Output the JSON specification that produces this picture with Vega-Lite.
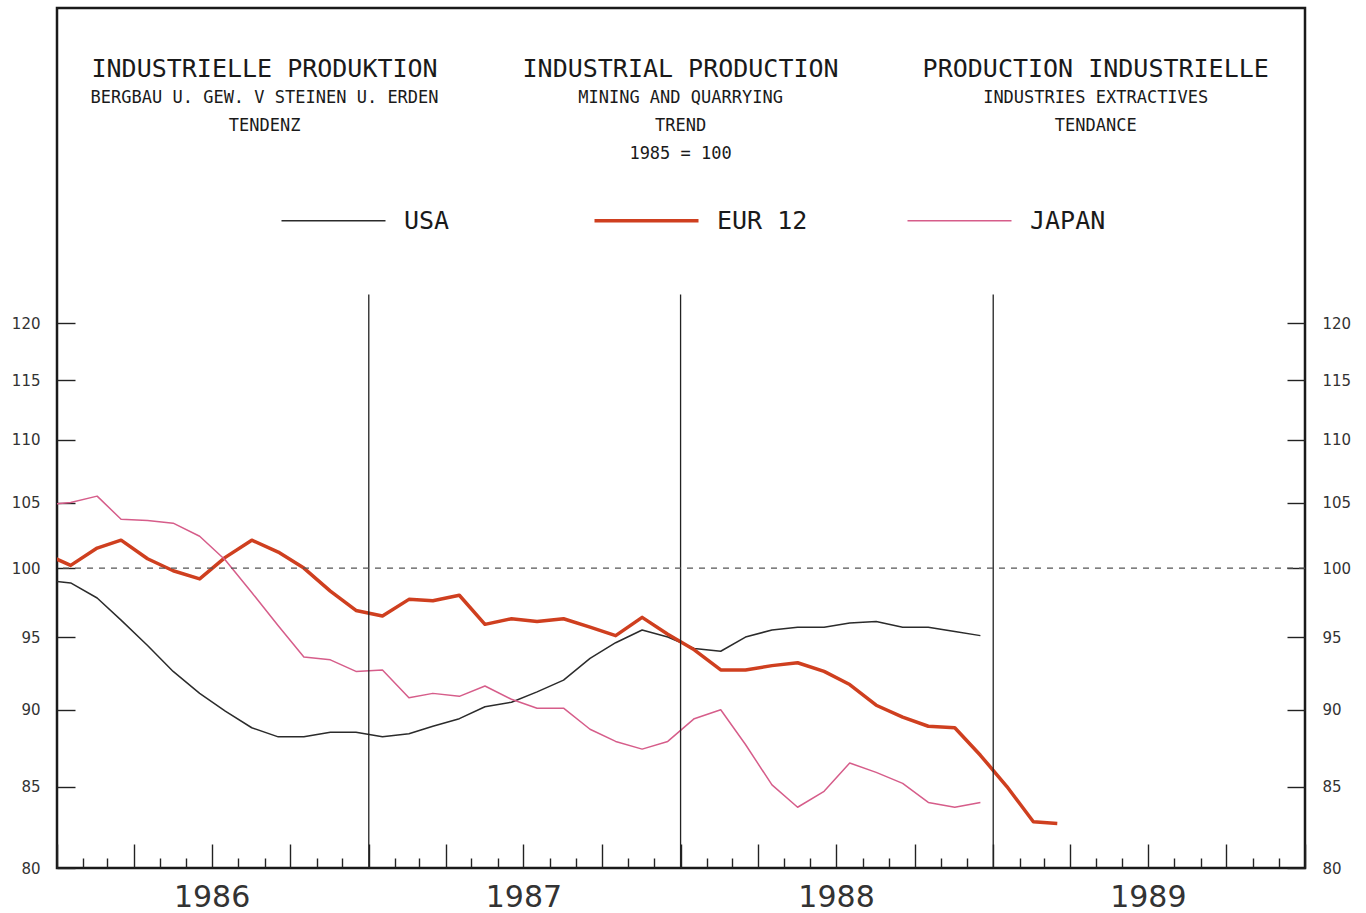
{
 "$schema": "https://vega.github.io/schema/vega-lite/v6.json",
 "width": 1248, "height": 860,
 "autosize": {"type": "none"},
 "padding": {"left": 57, "top": 8, "right": 61, "bottom": 45},
 "background": "white",
 "config": {
  "view": {"stroke": "#1a1a1a", "strokeWidth": 2.5},
  "axis": {"grid": false, "domain": false, "title": null, "labelFont": "DejaVu Sans", "labelColor": "#333", "tickColor": "#222", "tickWidth": 1.4}
 },
 "data": {"values": [
  {"date": "1985-12-17", "series": "USA", "value": 99.1},
  {"date": "1986-01-17", "series": "USA", "value": 98.9},
  {"date": "1986-02-17", "series": "USA", "value": 97.8},
  {"date": "1986-03-17", "series": "USA", "value": 96.2},
  {"date": "1986-04-17", "series": "USA", "value": 94.4},
  {"date": "1986-05-17", "series": "USA", "value": 92.6},
  {"date": "1986-06-17", "series": "USA", "value": 91.1},
  {"date": "1986-07-17", "series": "USA", "value": 89.9},
  {"date": "1986-08-17", "series": "USA", "value": 88.8},
  {"date": "1986-09-17", "series": "USA", "value": 88.2},
  {"date": "1986-10-17", "series": "USA", "value": 88.2},
  {"date": "1986-11-17", "series": "USA", "value": 88.5},
  {"date": "1986-12-17", "series": "USA", "value": 88.5},
  {"date": "1987-01-17", "series": "USA", "value": 88.2},
  {"date": "1987-02-17", "series": "USA", "value": 88.4},
  {"date": "1987-03-17", "series": "USA", "value": 88.9},
  {"date": "1987-04-17", "series": "USA", "value": 89.4},
  {"date": "1987-05-17", "series": "USA", "value": 90.2},
  {"date": "1987-06-17", "series": "USA", "value": 90.5},
  {"date": "1987-07-17", "series": "USA", "value": 91.2},
  {"date": "1987-08-17", "series": "USA", "value": 92.0},
  {"date": "1987-09-17", "series": "USA", "value": 93.5},
  {"date": "1987-10-17", "series": "USA", "value": 94.6},
  {"date": "1987-11-17", "series": "USA", "value": 95.5},
  {"date": "1987-12-17", "series": "USA", "value": 95.0},
  {"date": "1988-01-17", "series": "USA", "value": 94.2},
  {"date": "1988-02-17", "series": "USA", "value": 94.0},
  {"date": "1988-03-17", "series": "USA", "value": 95.0},
  {"date": "1988-04-17", "series": "USA", "value": 95.5},
  {"date": "1988-05-17", "series": "USA", "value": 95.7},
  {"date": "1988-06-17", "series": "USA", "value": 95.7},
  {"date": "1988-07-17", "series": "USA", "value": 96.0},
  {"date": "1988-08-17", "series": "USA", "value": 96.1},
  {"date": "1988-09-17", "series": "USA", "value": 95.7},
  {"date": "1988-10-17", "series": "USA", "value": 95.7},
  {"date": "1988-11-17", "series": "USA", "value": 95.4},
  {"date": "1988-12-17", "series": "USA", "value": 95.1},
  {"date": "1985-12-17", "series": "EUR 12", "value": 101.1},
  {"date": "1986-01-17", "series": "EUR 12", "value": 100.2},
  {"date": "1986-02-17", "series": "EUR 12", "value": 101.5},
  {"date": "1986-03-17", "series": "EUR 12", "value": 102.1},
  {"date": "1986-04-17", "series": "EUR 12", "value": 100.7},
  {"date": "1986-05-17", "series": "EUR 12", "value": 99.8},
  {"date": "1986-06-17", "series": "EUR 12", "value": 99.2},
  {"date": "1986-07-17", "series": "EUR 12", "value": 100.8},
  {"date": "1986-08-17", "series": "EUR 12", "value": 102.1},
  {"date": "1986-09-17", "series": "EUR 12", "value": 101.2},
  {"date": "1986-10-17", "series": "EUR 12", "value": 100.0},
  {"date": "1986-11-17", "series": "EUR 12", "value": 98.3},
  {"date": "1986-12-17", "series": "EUR 12", "value": 96.9},
  {"date": "1987-01-17", "series": "EUR 12", "value": 96.5},
  {"date": "1987-02-17", "series": "EUR 12", "value": 97.7},
  {"date": "1987-03-17", "series": "EUR 12", "value": 97.6},
  {"date": "1987-04-17", "series": "EUR 12", "value": 98.0},
  {"date": "1987-05-17", "series": "EUR 12", "value": 95.9},
  {"date": "1987-06-17", "series": "EUR 12", "value": 96.3},
  {"date": "1987-07-17", "series": "EUR 12", "value": 96.1},
  {"date": "1987-08-17", "series": "EUR 12", "value": 96.3},
  {"date": "1987-09-17", "series": "EUR 12", "value": 95.7},
  {"date": "1987-10-17", "series": "EUR 12", "value": 95.1},
  {"date": "1987-11-17", "series": "EUR 12", "value": 96.4},
  {"date": "1987-12-17", "series": "EUR 12", "value": 95.2},
  {"date": "1988-01-17", "series": "EUR 12", "value": 94.1},
  {"date": "1988-02-17", "series": "EUR 12", "value": 92.7},
  {"date": "1988-03-17", "series": "EUR 12", "value": 92.7},
  {"date": "1988-04-17", "series": "EUR 12", "value": 93.0},
  {"date": "1988-05-17", "series": "EUR 12", "value": 93.2},
  {"date": "1988-06-17", "series": "EUR 12", "value": 92.6},
  {"date": "1988-07-17", "series": "EUR 12", "value": 91.7},
  {"date": "1988-08-17", "series": "EUR 12", "value": 90.3},
  {"date": "1988-09-17", "series": "EUR 12", "value": 89.5},
  {"date": "1988-10-17", "series": "EUR 12", "value": 88.9},
  {"date": "1988-11-17", "series": "EUR 12", "value": 88.8},
  {"date": "1988-12-17", "series": "EUR 12", "value": 87.0},
  {"date": "1989-01-17", "series": "EUR 12", "value": 85.0},
  {"date": "1989-02-17", "series": "EUR 12", "value": 82.8},
  {"date": "1989-03-17", "series": "EUR 12", "value": 82.7},
  {"date": "1985-12-17", "series": "JAPAN", "value": 104.8},
  {"date": "1986-01-17", "series": "JAPAN", "value": 105.0},
  {"date": "1986-02-17", "series": "JAPAN", "value": 105.5},
  {"date": "1986-03-17", "series": "JAPAN", "value": 103.7},
  {"date": "1986-04-17", "series": "JAPAN", "value": 103.6},
  {"date": "1986-05-17", "series": "JAPAN", "value": 103.4},
  {"date": "1986-06-17", "series": "JAPAN", "value": 102.4},
  {"date": "1986-07-17", "series": "JAPAN", "value": 100.6},
  {"date": "1986-08-17", "series": "JAPAN", "value": 98.2},
  {"date": "1986-09-17", "series": "JAPAN", "value": 95.8},
  {"date": "1986-10-17", "series": "JAPAN", "value": 93.6},
  {"date": "1986-11-17", "series": "JAPAN", "value": 93.4},
  {"date": "1986-12-17", "series": "JAPAN", "value": 92.6},
  {"date": "1987-01-17", "series": "JAPAN", "value": 92.7},
  {"date": "1987-02-17", "series": "JAPAN", "value": 90.8},
  {"date": "1987-03-17", "series": "JAPAN", "value": 91.1},
  {"date": "1987-04-17", "series": "JAPAN", "value": 90.9},
  {"date": "1987-05-17", "series": "JAPAN", "value": 91.6},
  {"date": "1987-06-17", "series": "JAPAN", "value": 90.7},
  {"date": "1987-07-17", "series": "JAPAN", "value": 90.1},
  {"date": "1987-08-17", "series": "JAPAN", "value": 90.1},
  {"date": "1987-09-17", "series": "JAPAN", "value": 88.7},
  {"date": "1987-10-17", "series": "JAPAN", "value": 87.9},
  {"date": "1987-11-17", "series": "JAPAN", "value": 87.4},
  {"date": "1987-12-17", "series": "JAPAN", "value": 87.9},
  {"date": "1988-01-17", "series": "JAPAN", "value": 89.4},
  {"date": "1988-02-17", "series": "JAPAN", "value": 90.0},
  {"date": "1988-03-17", "series": "JAPAN", "value": 87.7},
  {"date": "1988-04-17", "series": "JAPAN", "value": 85.1},
  {"date": "1988-05-17", "series": "JAPAN", "value": 83.7},
  {"date": "1988-06-17", "series": "JAPAN", "value": 84.7},
  {"date": "1988-07-17", "series": "JAPAN", "value": 86.5},
  {"date": "1988-08-17", "series": "JAPAN", "value": 85.9},
  {"date": "1988-09-17", "series": "JAPAN", "value": 85.2},
  {"date": "1988-10-17", "series": "JAPAN", "value": 84.0},
  {"date": "1988-11-17", "series": "JAPAN", "value": 83.7},
  {"date": "1988-12-17", "series": "JAPAN", "value": 84.0}
 ]},
 "resolve": {"axis": {"x": "independent", "y": "independent"}},
 "layer": [
  {
   "mark": {"type": "line", "clip": true, "strokeJoin": "round"},
   "encoding": {
    "x": {"field": "date", "type": "temporal",
     "scale": {"type": "utc", "domain": [{"year": 1986, "month": 1, "date": 1, "utc": true}, {"year": 1990, "month": 1, "date": 1, "utc": true}], "nice": false},
     "axis": {"orient": "bottom", "tickCount": {"interval": "month", "step": 1}, "labelExpr": "utcmonth(datum.value) == 6 ? utcFormat(datum.value, '%Y') : ''", "tickSize": {"condition": {"test": "utcmonth(datum.value) % 3 == 0", "value": -24}, "value": -10}, "labelFontSize": 30, "labelBaseline": "alphabetic", "labelPadding": 62, "labelOverlap": false, "labelFlush": false, "labelColor": "#333"}},
    "y": {"field": "value", "type": "quantitative",
     "scale": {"type": "log", "domain": [80, 151.7], "nice": false, "zero": false},
     "axis": {"orient": "left", "values": [80, 85, 90, 95, 100, 105, 110, 115, 120], "format": "d", "tickSize": -18, "labelPadding": 35, "labelAlign": "right", "labelBaseline": "middle", "labelFontSize": 15}},
    "color": {"field": "series", "type": "nominal",
     "scale": {"domain": ["USA", "EUR 12", "JAPAN"], "range": ["#2b2b2b", "#cf3f1f", "#d65d8a"]},
     "legend": {"orient": "none", "legendX": 264, "legendY": 200, "direction": "horizontal", "title": null, "symbolType": "stroke", "symbolSize": 10816, "symbolStrokeWidth": 1.5, "labelFont": "DejaVu Sans Mono", "labelFontSize": 25, "labelColor": "#1a1a1a", "labelOffset": 58, "columnPadding": 92, "gridAlign": "all", "padding": 0,
      "encode": {"symbols": {"update": {"strokeWidth": {"signal": "datum.value === 'EUR 12' ? 3.5 : 1.5"}}}}}},
    "strokeWidth": {"condition": {"test": "datum.series === 'EUR 12'", "value": 3.5}, "value": 1.5}
   }
  },
  {
   "data": {"values": [{"year_start": "1987-01-01"}, {"year_start": "1988-01-01"}, {"year_start": "1989-01-01"}]},
   "mark": {"type": "rule", "color": "#222", "strokeWidth": 1.3},
   "encoding": {
    "x": {"field": "year_start", "type": "temporal", "axis": null},
    "y": {"datum": 80, "axis": null},
    "y2": {"datum": 122.57}
   }
  },
  {
   "data": {"values": [{}]},
   "mark": {"type": "rule", "color": "#555", "strokeDash": [6, 6], "strokeWidth": 1.2},
   "encoding": {
    "y": {"datum": 100, "axis": {"orient": "right", "values": [80, 85, 90, 95, 100, 105, 110, 115, 120], "format": "d", "tickSize": -18, "labelPadding": 35, "labelAlign": "left", "labelBaseline": "middle", "labelFontSize": 15}}
   }
  },
  {
   "data": {"values": [{"t": "INDUSTRIELLE PRODUKTION"}]},
   "mark": {"type": "text", "font": "DejaVu Sans Mono", "fontSize": 25, "align": "center", "baseline": "alphabetic", "color": "#1a1a1a"},
   "encoding": {"text": {"field": "t"}, "x": {"datum": {"year": 1986, "month": 9, "date": 1, "utc": true}, "type": "temporal", "axis": null}, "y": {"datum": 144.07, "axis": null}}
  },
  {
   "data": {"values": [{"t": "INDUSTRIAL PRODUCTION"}]},
   "mark": {"type": "text", "font": "DejaVu Sans Mono", "fontSize": 25, "align": "center", "baseline": "alphabetic", "color": "#1a1a1a"},
   "encoding": {"text": {"field": "t"}, "x": {"datum": {"year": 1988, "month": 1, "date": 1, "utc": true}, "type": "temporal", "axis": null}, "y": {"datum": 144.07, "axis": null}}
  },
  {
   "data": {"values": [{"t": "PRODUCTION INDUSTRIELLE"}]},
   "mark": {"type": "text", "font": "DejaVu Sans Mono", "fontSize": 25, "align": "center", "baseline": "alphabetic", "color": "#1a1a1a"},
   "encoding": {"text": {"field": "t"}, "x": {"datum": {"year": 1989, "month": 5, "date": 1, "utc": true}, "type": "temporal", "axis": null}, "y": {"datum": 144.07, "axis": null}}
  },
  {
   "data": {"values": [{"t": ["BERGBAU U. GEW. V STEINEN U. ERDEN", "TENDENZ"]}]},
   "mark": {"type": "text", "font": "DejaVu Sans Mono", "fontSize": 17, "lineHeight": 28, "align": "center", "baseline": "alphabetic", "color": "#1a1a1a"},
   "encoding": {"text": {"field": "t"}, "x": {"datum": {"year": 1986, "month": 9, "date": 1, "utc": true}, "type": "temporal", "axis": null}, "y": {"datum": 141.3, "axis": null}}
  },
  {
   "data": {"values": [{"t": ["MINING AND QUARRYING", "TREND", "1985 = 100"]}]},
   "mark": {"type": "text", "font": "DejaVu Sans Mono", "fontSize": 17, "lineHeight": 28, "align": "center", "baseline": "alphabetic", "color": "#1a1a1a"},
   "encoding": {"text": {"field": "t"}, "x": {"datum": {"year": 1988, "month": 1, "date": 1, "utc": true}, "type": "temporal", "axis": null}, "y": {"datum": 141.3, "axis": null}}
  },
  {
   "data": {"values": [{"t": ["INDUSTRIES EXTRACTIVES", "TENDANCE"]}]},
   "mark": {"type": "text", "font": "DejaVu Sans Mono", "fontSize": 17, "lineHeight": 28, "align": "center", "baseline": "alphabetic", "color": "#1a1a1a"},
   "encoding": {"text": {"field": "t"}, "x": {"datum": {"year": 1989, "month": 5, "date": 1, "utc": true}, "type": "temporal", "axis": null}, "y": {"datum": 141.3, "axis": null}}
  }
 ]
}
